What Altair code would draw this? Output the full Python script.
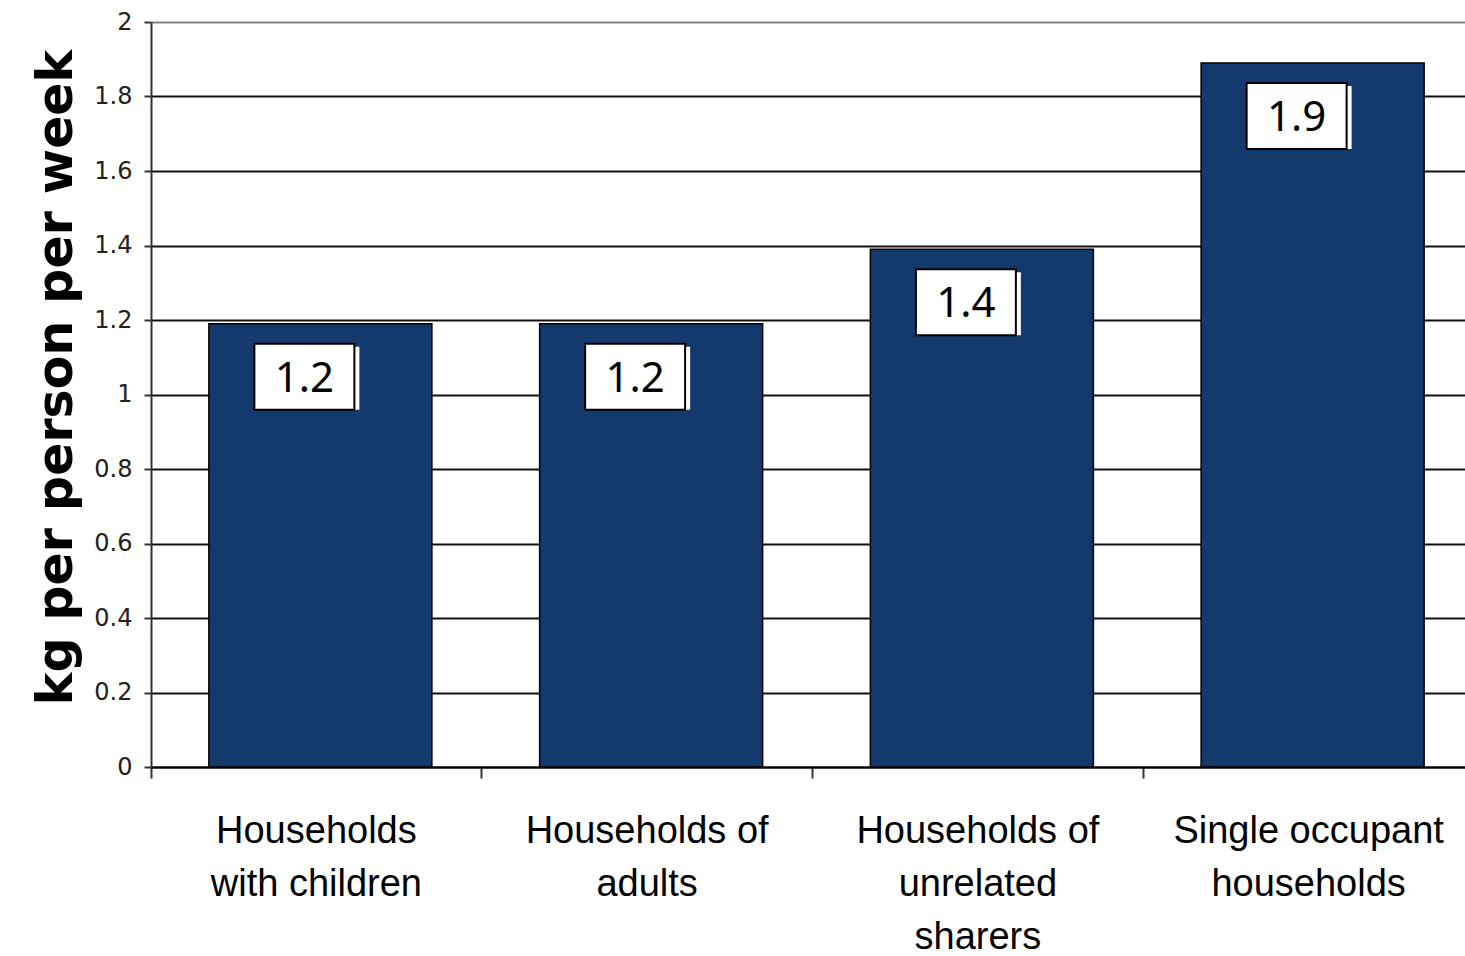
import altair as alt
import pandas as pd

categories = [
    "Households\nwith children",
    "Households of\nadults",
    "Households of\nunrelated\nsharers",
    "Single occupant\nhouseholds",
]
values = [1.19, 1.19, 1.39, 1.89]
y_ticks = [0, 0.2, 0.4, 0.6, 0.8, 1, 1.2, 1.4, 1.6, 1.8, 2]

df = pd.DataFrame({"cat": categories, "val": values})

BAR = "#143A6D"

x_scale = alt.Scale(paddingInner=0, paddingOuter=0, range=[0, 1323])

x = alt.X(
    "cat:N",
    sort=categories,
    scale=x_scale,
    axis=alt.Axis(
        title=None,
        labelAngle=0,
        labelExpr="split(datum.label, '\\n')",
        labelFont="Liberation Sans",
        labelFontSize=38,
        labelLineHeight=53,
        labelColor="#000000",
        labelLimit=0,
        labelPadding=34,
        labelBaseline="top",
        bandPosition=0,
        tickSize=11,
        tickColor="#333333",
        tickWidth=2,
        domainColor="#000000",
        domainWidth=2,
        grid=False,
    ),
)

y_scale = alt.Scale(domain=[0, 2], nice=False, zero=True)

bars = alt.Chart(df).mark_bar(width=223, color=BAR, stroke="#000000", strokeWidth=1.5, xOffset=4).encode(
    x=x,
    y=alt.Y(
        "val:Q",
        scale=y_scale,
        axis=alt.Axis(
            values=y_ticks,
            format="~g",
            title="kg per person per week",
            titleFont="DejaVu Sans",
            titleFontSize=49,
            titleFontWeight="bold",
            titleColor="#000000",
            titleX=-95,
            titleY=355,
            titleAlign="center",
            titleBaseline="middle",
            titleAngle=-90,
            labelFont="DejaVu Sans",
            labelFontSize=24,
            labelColor="#222222",
            labelPadding=12,
            tickSize=7,
            tickColor="#333333",
            tickWidth=2,
            domainColor="#333333",
            domainWidth=2,
            grid=True,
            gridColor=alt.condition("datum.value == 2", alt.value("#808080"), alt.value("#111111")),
            gridWidth=2,
        ),
    ),
)

box_base = alt.Chart(df).transform_calculate(
    ytop="datum.val - 0.054",
    ybot="datum.val - 0.231",
    ymid="datum.val - 0.1425",
    lab="format(datum.val, '.1f')",
)

shadow = box_base.mark_bar(width=100, color="#ffffff", xOffset=-7, yOffset=3).encode(
    x=alt.X("cat:N", sort=categories, scale=x_scale),
    y=alt.Y("ytop:Q", scale=y_scale),
    y2="ybot:Q",
)

box = box_base.mark_bar(width=100, color="#ffffff", stroke="#000000", strokeWidth=2, xOffset=-12).encode(
    x=alt.X("cat:N", sort=categories, scale=x_scale),
    y=alt.Y("ytop:Q", scale=y_scale),
    y2="ybot:Q",
)

text = box_base.mark_text(
    font="Noto Sans", fontSize=42, color="#000000", xOffset=-12, baseline="middle", align="center", dy=2
).encode(
    x=alt.X("cat:N", sort=categories, scale=x_scale),
    y=alt.Y("ymid:Q", scale=y_scale),
    text="lab:N",
)

chart = (
    alt.layer(bars, shadow, box, text)
    .properties(
        width=1314,
        height=745,
        padding={"left": 151, "top": 22, "right": 0, "bottom": 189},
        autosize=alt.AutoSizeParams(type="none"),
        background="#ffffff",
    )
    .configure_view(stroke=None)
)

chart.save("out.html", embed_options={"renderer": "svg", "actions": False})
